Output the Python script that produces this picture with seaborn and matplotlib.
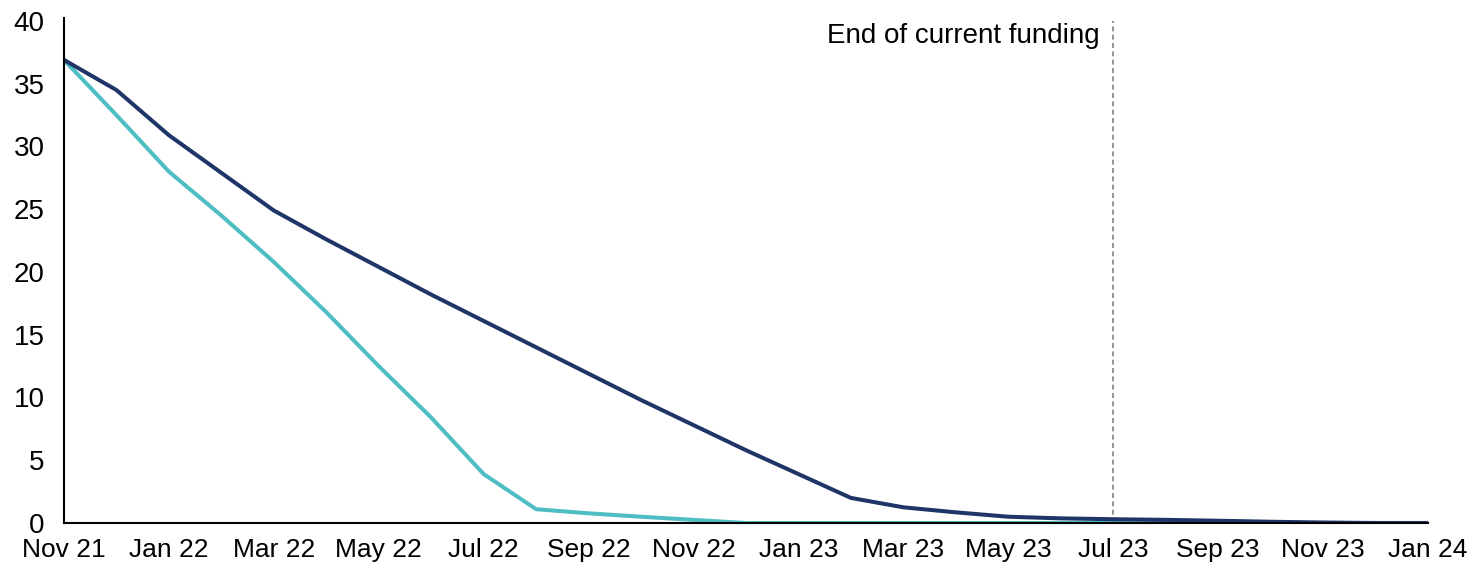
import matplotlib
matplotlib.use("Agg")
import matplotlib.pyplot as plt
import seaborn as sns
import pandas as pd

months = ["Nov 21", "Dec 21", "Jan 22", "Feb 22", "Mar 22", "Apr 22", "May 22",
          "Jun 22", "Jul 22", "Aug 22", "Sep 22", "Oct 22", "Nov 22", "Dec 22",
          "Jan 23", "Feb 23", "Mar 23", "Apr 23", "May 23", "Jun 23", "Jul 23",
          "Aug 23", "Sep 23", "Oct 23", "Nov 23", "Dec 23", "Jan 24"]

slower_decline = [36.9, 34.5, 30.9, 27.9, 24.9, 22.6, 20.4, 18.2, 16.1, 14.0,
                  11.9, 9.8, 7.8, 5.8, 3.9, 2.0, 1.25, 0.85, 0.5, 0.37,
                  0.3, 0.25, 0.18, 0.1, 0.04, 0.0, 0.0]
faster_decline = [36.9, 32.5, 28.0, 24.5, 20.8, 16.8, 12.5, 8.4, 3.9, 1.1,
                  0.77, 0.5, 0.25, 0.0, 0.0, 0.0, 0.0, 0.0, 0.0, 0.0,
                  0.0, 0.0, 0.0, 0.0, 0.0, 0.0, 0.0]

funding_end = "Jul 23"
funding_label = "End of current funding"

df = pd.DataFrame({
    "month": list(range(len(months))) * 2,
    "value": slower_decline + faster_decline,
    "series": ["slower"] * len(months) + ["faster"] * len(months),
})

sns.set_theme(style="white")
plt.rcParams["font.family"] = ["Liberation Sans", "DejaVu Sans"]

fig = plt.figure(figsize=(14.7, 5.67), dpi=100)
ax = fig.add_axes([0.0435, 0.0776, 0.9279, 0.8854])

sns.lineplot(data=df, x="month", y="value", hue="series",
             palette={"slower": "#1f3567", "faster": "#4fbec4"},
             hue_order=["faster", "slower"],
             linewidth=2.9, legend=False, ax=ax)

end_idx = months.index(funding_end)
ax.axvline(end_idx, color="#808080", linestyle=(0, (3, 2)), linewidth=1.2, zorder=0)
ax.text(end_idx - 0.25, 38.8, funding_label, ha="right", va="center",
        fontsize=20, color="black")

ax.set_xlim(0, len(months) - 1)
ax.set_ylim(0, 40)
ax.set_xticks(range(0, len(months), 2))
ax.set_xticklabels(months[::2])
ax.set_yticks(range(0, 41, 5))
ax.tick_params(axis="x", length=0, labelsize=19, colors="black", pad=11)
ax.tick_params(axis="y", length=0, labelsize=20, colors="black", pad=14)
ax.set_xlabel("")
ax.set_ylabel("")

for side in ["top", "right"]:
    ax.spines[side].set_visible(False)
for side in ["left", "bottom"]:
    ax.spines[side].set_color("black")
    ax.spines[side].set_linewidth(1.5)
ax.spines["left"].set_bounds(0, 40.2)

fig.savefig("out.png", dpi=100)
